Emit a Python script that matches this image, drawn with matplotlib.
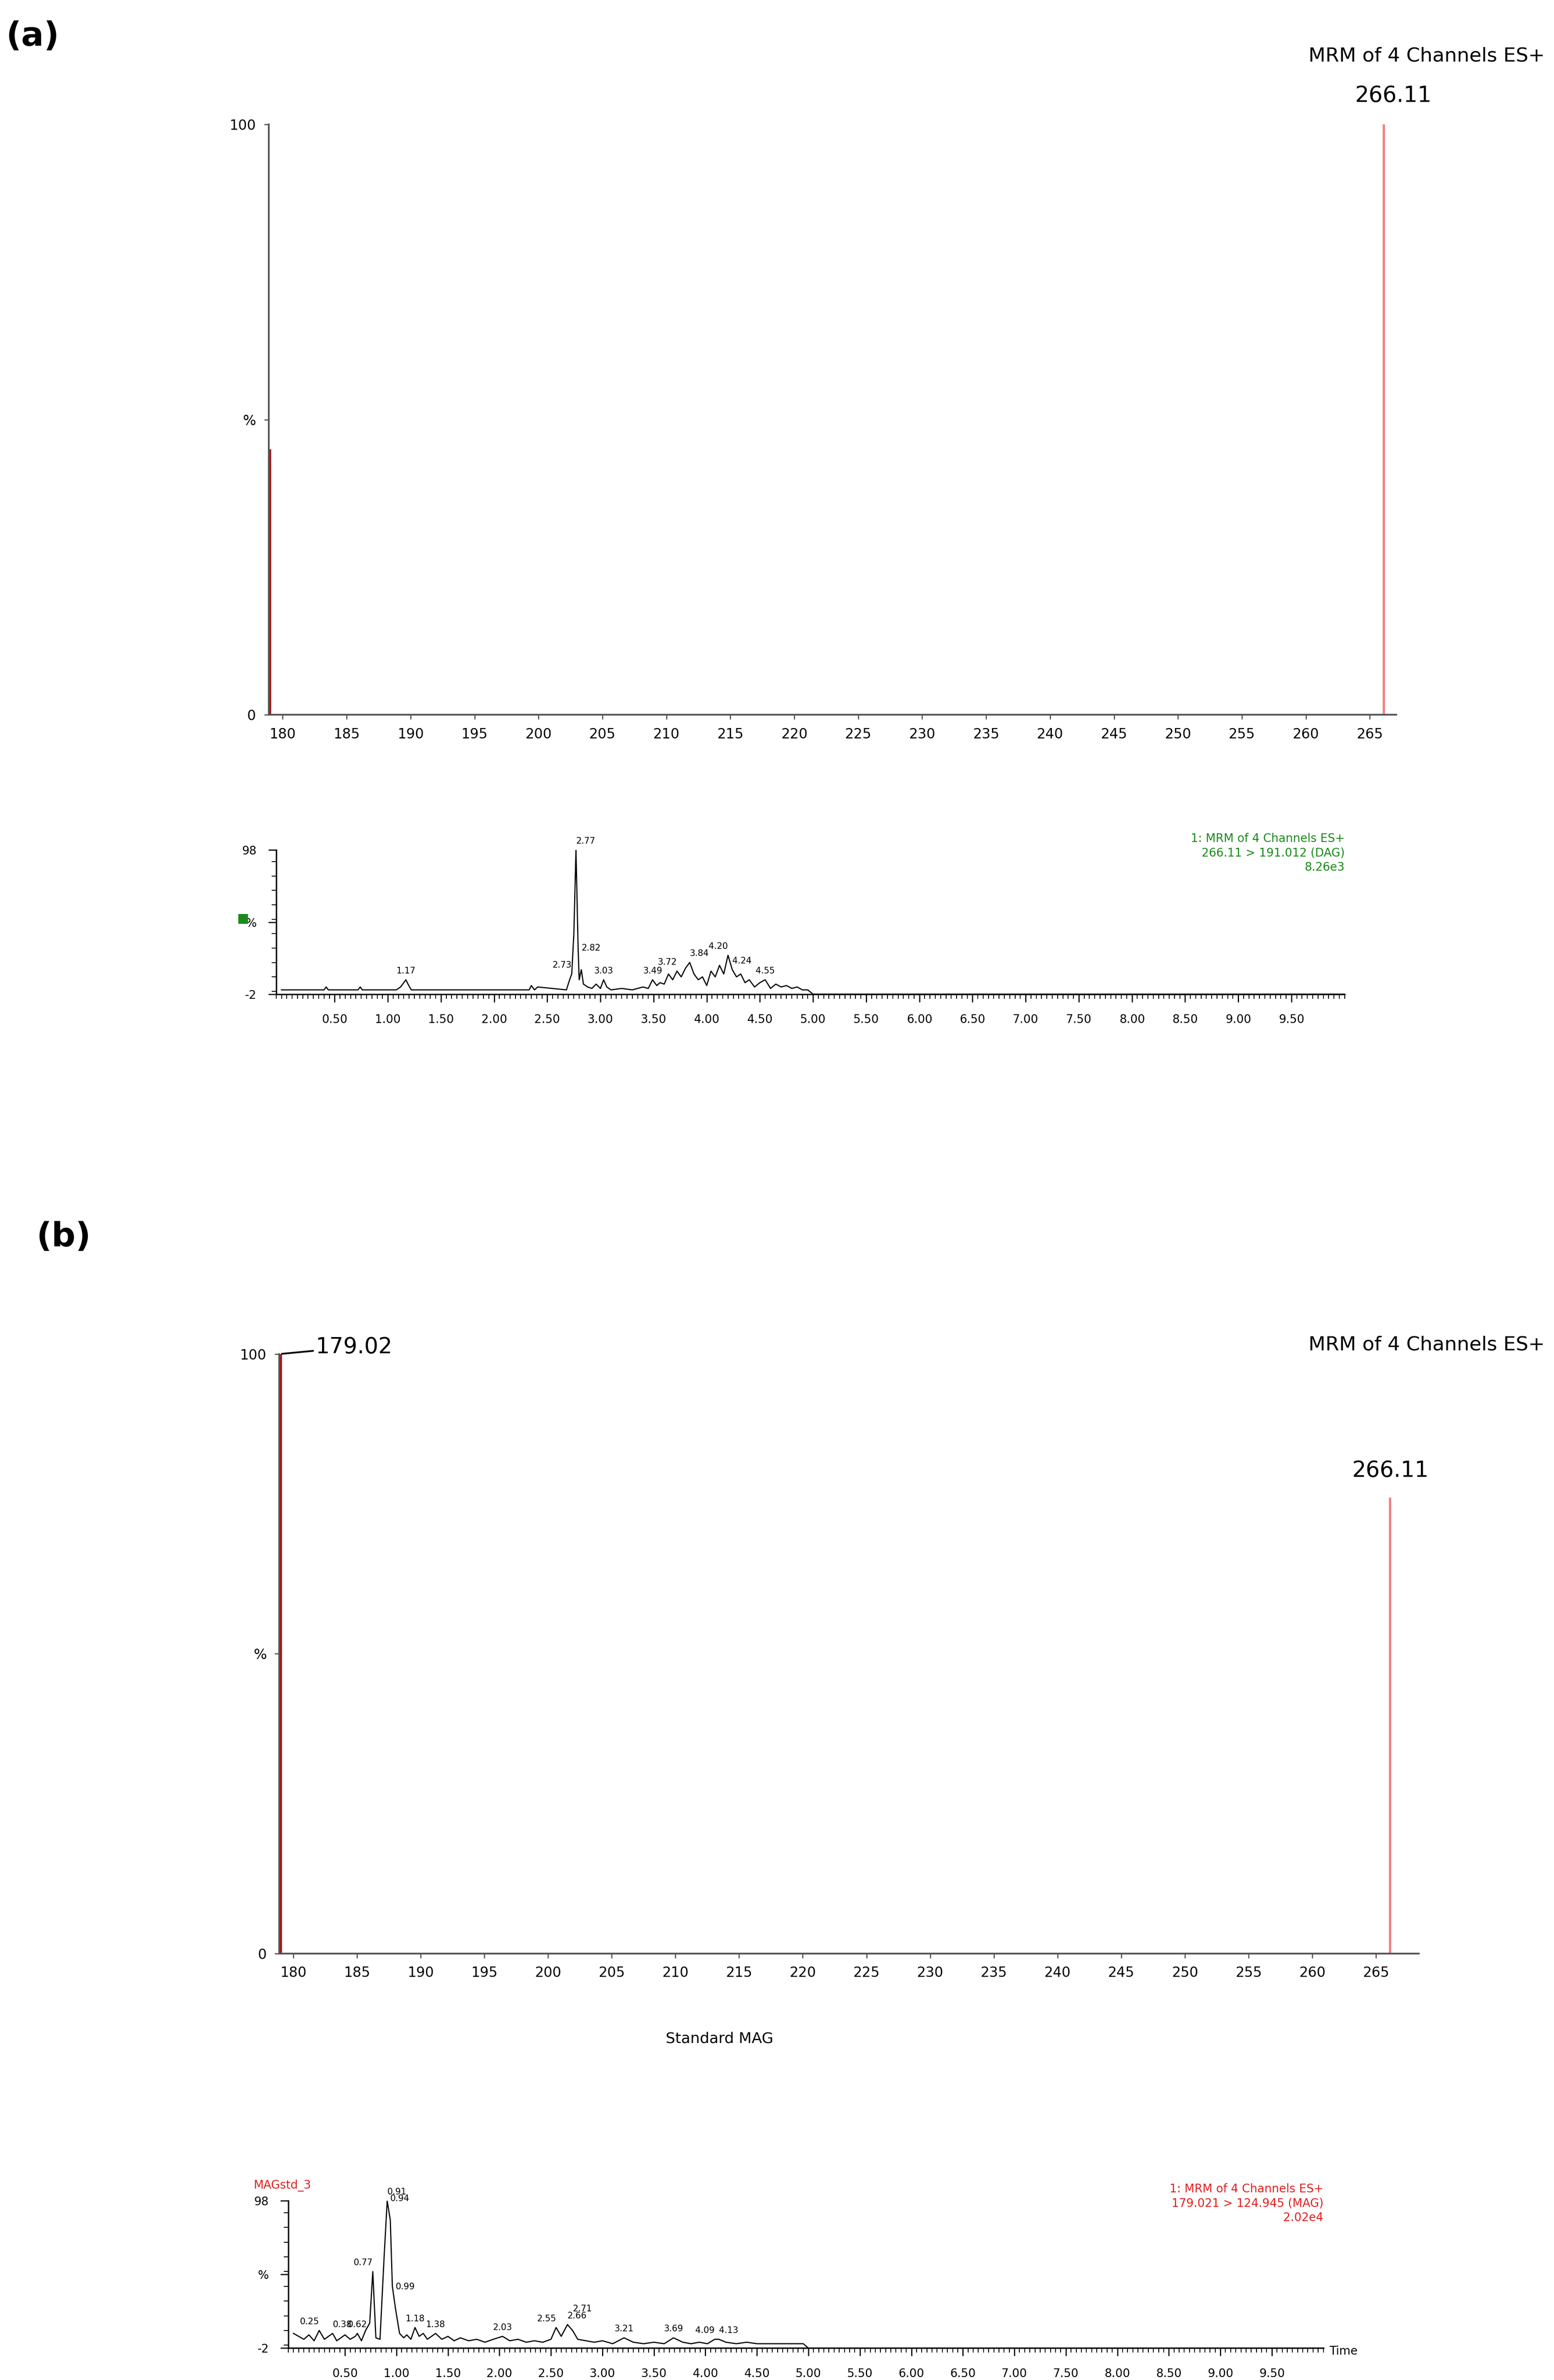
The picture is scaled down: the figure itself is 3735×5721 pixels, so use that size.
import matplotlib.pyplot as plt
import numpy as np
from matplotlib.ticker import MultipleLocator

# ---- data ----
mz_ticks = [180, 185, 190, 195, 200, 205, 210, 215, 220, 225, 230, 235, 240, 245, 250, 255, 260, 265]

# panel (a) spectrum: (m/z, %)
a_mz = [179.02, 266.11]
a_int = [45, 100]
a_colors = ["#a01818", "#f08080"]

# panel (b) spectrum
b_mz = [179.02, 266.11]
b_int = [100, 76]
b_colors = ["#a01818", "#f08080"]

# panel (a) chromatogram trace (time, %)
a_t = [0.0, 0.40, 0.42, 0.44, 0.72, 0.74, 0.76, 1.08, 1.12, 1.15, 1.17, 1.19, 1.22, 1.26,
       2.33, 2.35, 2.38, 2.41, 2.68, 2.71, 2.73, 2.75, 2.77, 2.79, 2.80, 2.82, 2.84, 2.88,
       2.92, 2.96, 3.00, 3.03, 3.06, 3.10, 3.20, 3.30, 3.40, 3.45, 3.49, 3.53, 3.56, 3.60,
       3.64, 3.68, 3.72, 3.76, 3.80, 3.84, 3.88, 3.92, 3.96, 4.00, 4.04, 4.08, 4.12, 4.16,
       4.20, 4.24, 4.28, 4.32, 4.36, 4.40, 4.45, 4.50, 4.55, 4.60, 4.65, 4.70, 4.75, 4.80,
       4.85, 4.90, 4.95, 5.0, 10.0]
a_y = [1, 1, 3, 1, 1, 3, 1, 1, 3, 6, 8, 5, 1, 1,
       1, 4, 1, 3, 1, 8, 12, 40, 98, 30, 8, 15, 5, 3,
       2, 5, 2, 8, 3, 1, 2, 1, 3, 2, 8, 4, 6, 5,
       12, 8, 14, 10, 16, 20, 12, 8, 10, 4, 14, 10, 18, 12,
       25, 15, 10, 12, 6, 8, 3, 6, 8, 2, 5, 3, 4, 2,
       3, 1, 1, -2, -2]
a_peaks = [1.17, 2.73, 2.77, 2.82, 3.03, 3.49, 3.72, 3.84, 4.20, 4.24, 4.55]
a_peak_h = [8, 12, 98, 15, 8, 8, 14, 20, 25, 15, 8]

# panel (b) chromatogram trace
b_t = [0.0, 0.05, 0.10, 0.15, 0.20, 0.25, 0.30, 0.34, 0.38, 0.42, 0.46, 0.50, 0.55, 0.60,
       0.62, 0.66, 0.70, 0.74, 0.77, 0.80, 0.84, 0.88, 0.91, 0.94, 0.96, 0.99, 1.03, 1.07,
       1.10, 1.14, 1.18, 1.22, 1.26, 1.30, 1.34, 1.38, 1.44, 1.50, 1.56, 1.62, 1.70, 1.78,
       1.86, 1.94, 2.03, 2.10, 2.18, 2.26, 2.34, 2.42, 2.50, 2.55, 2.60, 2.66, 2.71, 2.76,
       2.84, 2.92, 3.00, 3.10, 3.21, 3.30, 3.40, 3.50, 3.60, 3.69, 3.78, 3.86, 3.94, 4.02,
       4.09, 4.13, 4.20, 4.30, 4.40, 4.50, 4.60, 4.70, 4.80, 4.90, 4.95, 5.0, 10.0]
b_y = [8, 6, 4, 7, 3, 10, 4, 6, 8, 3, 5, 7, 4, 6,
       8, 3, 10, 15, 50, 5, 4, 60, 98, 85, 40, 25, 8, 5,
       7, 4, 12, 6, 8, 4, 6, 8, 4, 6, 3, 5, 3, 4,
       2, 4, 6, 3, 4, 2, 3, 2, 4, 12, 6, 14, 10, 4,
       3, 2, 3, 1, 5, 2, 1, 2, 1, 5, 2, 1, 2, 1,
       4, 4, 2, 1, 2, 1, 1, 1, 1, 1, 1, -2, -2]
b_peaks = [0.25, 0.38, 0.62, 0.77, 0.91, 0.94, 0.99, 1.18, 1.38, 2.03, 2.55, 2.66, 2.71, 3.21, 3.69, 4.09, 4.13]
b_peak_h = [10, 8, 8, 50, 98, 85, 25, 12, 8, 6, 12, 14, 10, 5, 5, 4, 4]

W, H = 1024, 1568  # layout units (displayed reference size)


def rect(l, t, r, b):
    return [l / W, 1 - b / H, (r - l) / W, (b - t) / H]


def fig_text(x, y, s, **kw):
    fig.text(x / W, 1 - y / H, s, **kw)


fig = plt.figure(figsize=(37.35, 57.21), dpi=100)
grey = "#555555"


def spectrum(box, mz, inten, colors, xlim):
    ax = fig.add_axes(box)
    ax.vlines(mz, 0, inten, colors=colors, linewidth=4)
    ax.set_xlim(*xlim)
    ax.set_ylim(0, 100)
    ax.set_xticks(mz_ticks)
    ax.set_xticklabels([str(t) for t in mz_ticks], fontsize=24)
    ax.set_yticks([0, 50, 100])
    ax.set_yticklabels(["0", "%", "100"], fontsize=24)
    ax.tick_params(length=8, width=2, color=grey, pad=14)
    for s in ["top", "right"]:
        ax.spines[s].set_visible(False)
    for s in ["left", "bottom"]:
        ax.spines[s].set_color(grey)
        ax.spines[s].set_linewidth(3)
    return ax


def chrom(box, t, y, peaks, heights, color, lines):
    ax = fig.add_axes(box)
    ax.plot(t, y, color="black", linewidth=2)
    ax.set_xlim(-0.05, 10.0)
    ax.set_ylim(-2, 98)
    ax.xaxis.set_minor_locator(MultipleLocator(0.05))
    xt = np.arange(0.5, 10.0, 0.5)
    ax.set_xticks(xt)
    ax.set_xticklabels(["%.2f" % v for v in xt], fontsize=20)
    ax.set_yticks([-2, 48, 98])
    ax.set_yticklabels(["-2", "%", "98"], fontsize=20)
    ax.yaxis.set_minor_locator(MultipleLocator(10))
    ax.tick_params(which="major", length=14, width=2, pad=20)
    ax.tick_params(which="minor", length=8, width=1.5)
    for s in ["top", "right"]:
        ax.spines[s].set_visible(False)
    for s in ["left", "bottom"]:
        ax.spines[s].set_linewidth(2.5)
    n = len(peaks)
    prev_ha = "center"
    for i, (p, h) in enumerate(zip(peaks, heights)):
        # split labels of neighbouring peaks to either side
        near_prev = i > 0 and p - peaks[i - 1] < 0.15
        near_next = i < n - 1 and peaks[i + 1] - p < 0.15
        ha, lift = "center", 0
        if near_prev:
            ha = "left"
            if prev_ha == "left":
                lift = 22
        elif near_next:
            ha = "right"
        prev_ha = ha
        ax.annotate("%.2f" % p, (p, h), xytext=(0, 8 + lift), textcoords="offset points",
                    ha=ha, va="bottom", fontsize=15)
    ax.text(1.0, 1.12, "\n".join(lines), transform=ax.transAxes, ha="right", va="top",
            color=color, fontsize=20, linespacing=1.3)
    return ax


# ---- panel (a) ----
fig_text(4, 24, "(a)", fontsize=58, fontweight="bold", va="center")
fig_text(1018, 37, "MRM of 4 Channels ES+", fontsize=34, ha="right", va="center")
spectrum(rect(177, 82, 920, 471), a_mz, a_int, a_colors, (178.9, 267.06))
fig_text(918, 63, "266.11", fontsize=38, ha="center", va="center")
chrom(rect(182, 560, 886, 655), a_t, a_y, a_peaks, a_peak_h, "#1a8a1a",
      ["1: MRM of 4 Channels ES+", "266.11 > 191.012 (DAG)", "8.26e3"])
fig_text(160, 605, "\u25A0", color="#1a8a1a", fontsize=22, ha="center", va="center")

# ---- panel (b) ----
fig_text(24, 815, "(b)", fontsize=58, fontweight="bold", va="center")
fig_text(1018, 886, "MRM of 4 Channels ES+", fontsize=34, ha="right", va="center")
axb = spectrum(rect(184, 892, 935, 1287), b_mz, b_int, b_colors, (178.9, 268.37))
axb.annotate("179.02", (b_mz[0], b_int[0]), xytext=(60, 12), textcoords="offset points",
             fontsize=38, va="center", annotation_clip=False,
             arrowprops=dict(arrowstyle="-", color="black", linewidth=3))
fig_text(916, 969, "266.11", fontsize=38, ha="center", va="center")
fig_text(474, 1343, "Standard MAG", fontsize=26, ha="center", va="center")
chrom(rect(190, 1450, 872, 1547), b_t, b_y, b_peaks, b_peak_h, "#e02020",
      ["1: MRM of 4 Channels ES+", "179.021 > 124.945 (MAG)", "2.02e4"])
fig_text(167, 1440, "MAGstd_3", color="#e02020", fontsize=20, va="center")
fig_text(876, 1549, "Time", fontsize=20, va="center")

fig.savefig("out.png", dpi=100, facecolor="white")
